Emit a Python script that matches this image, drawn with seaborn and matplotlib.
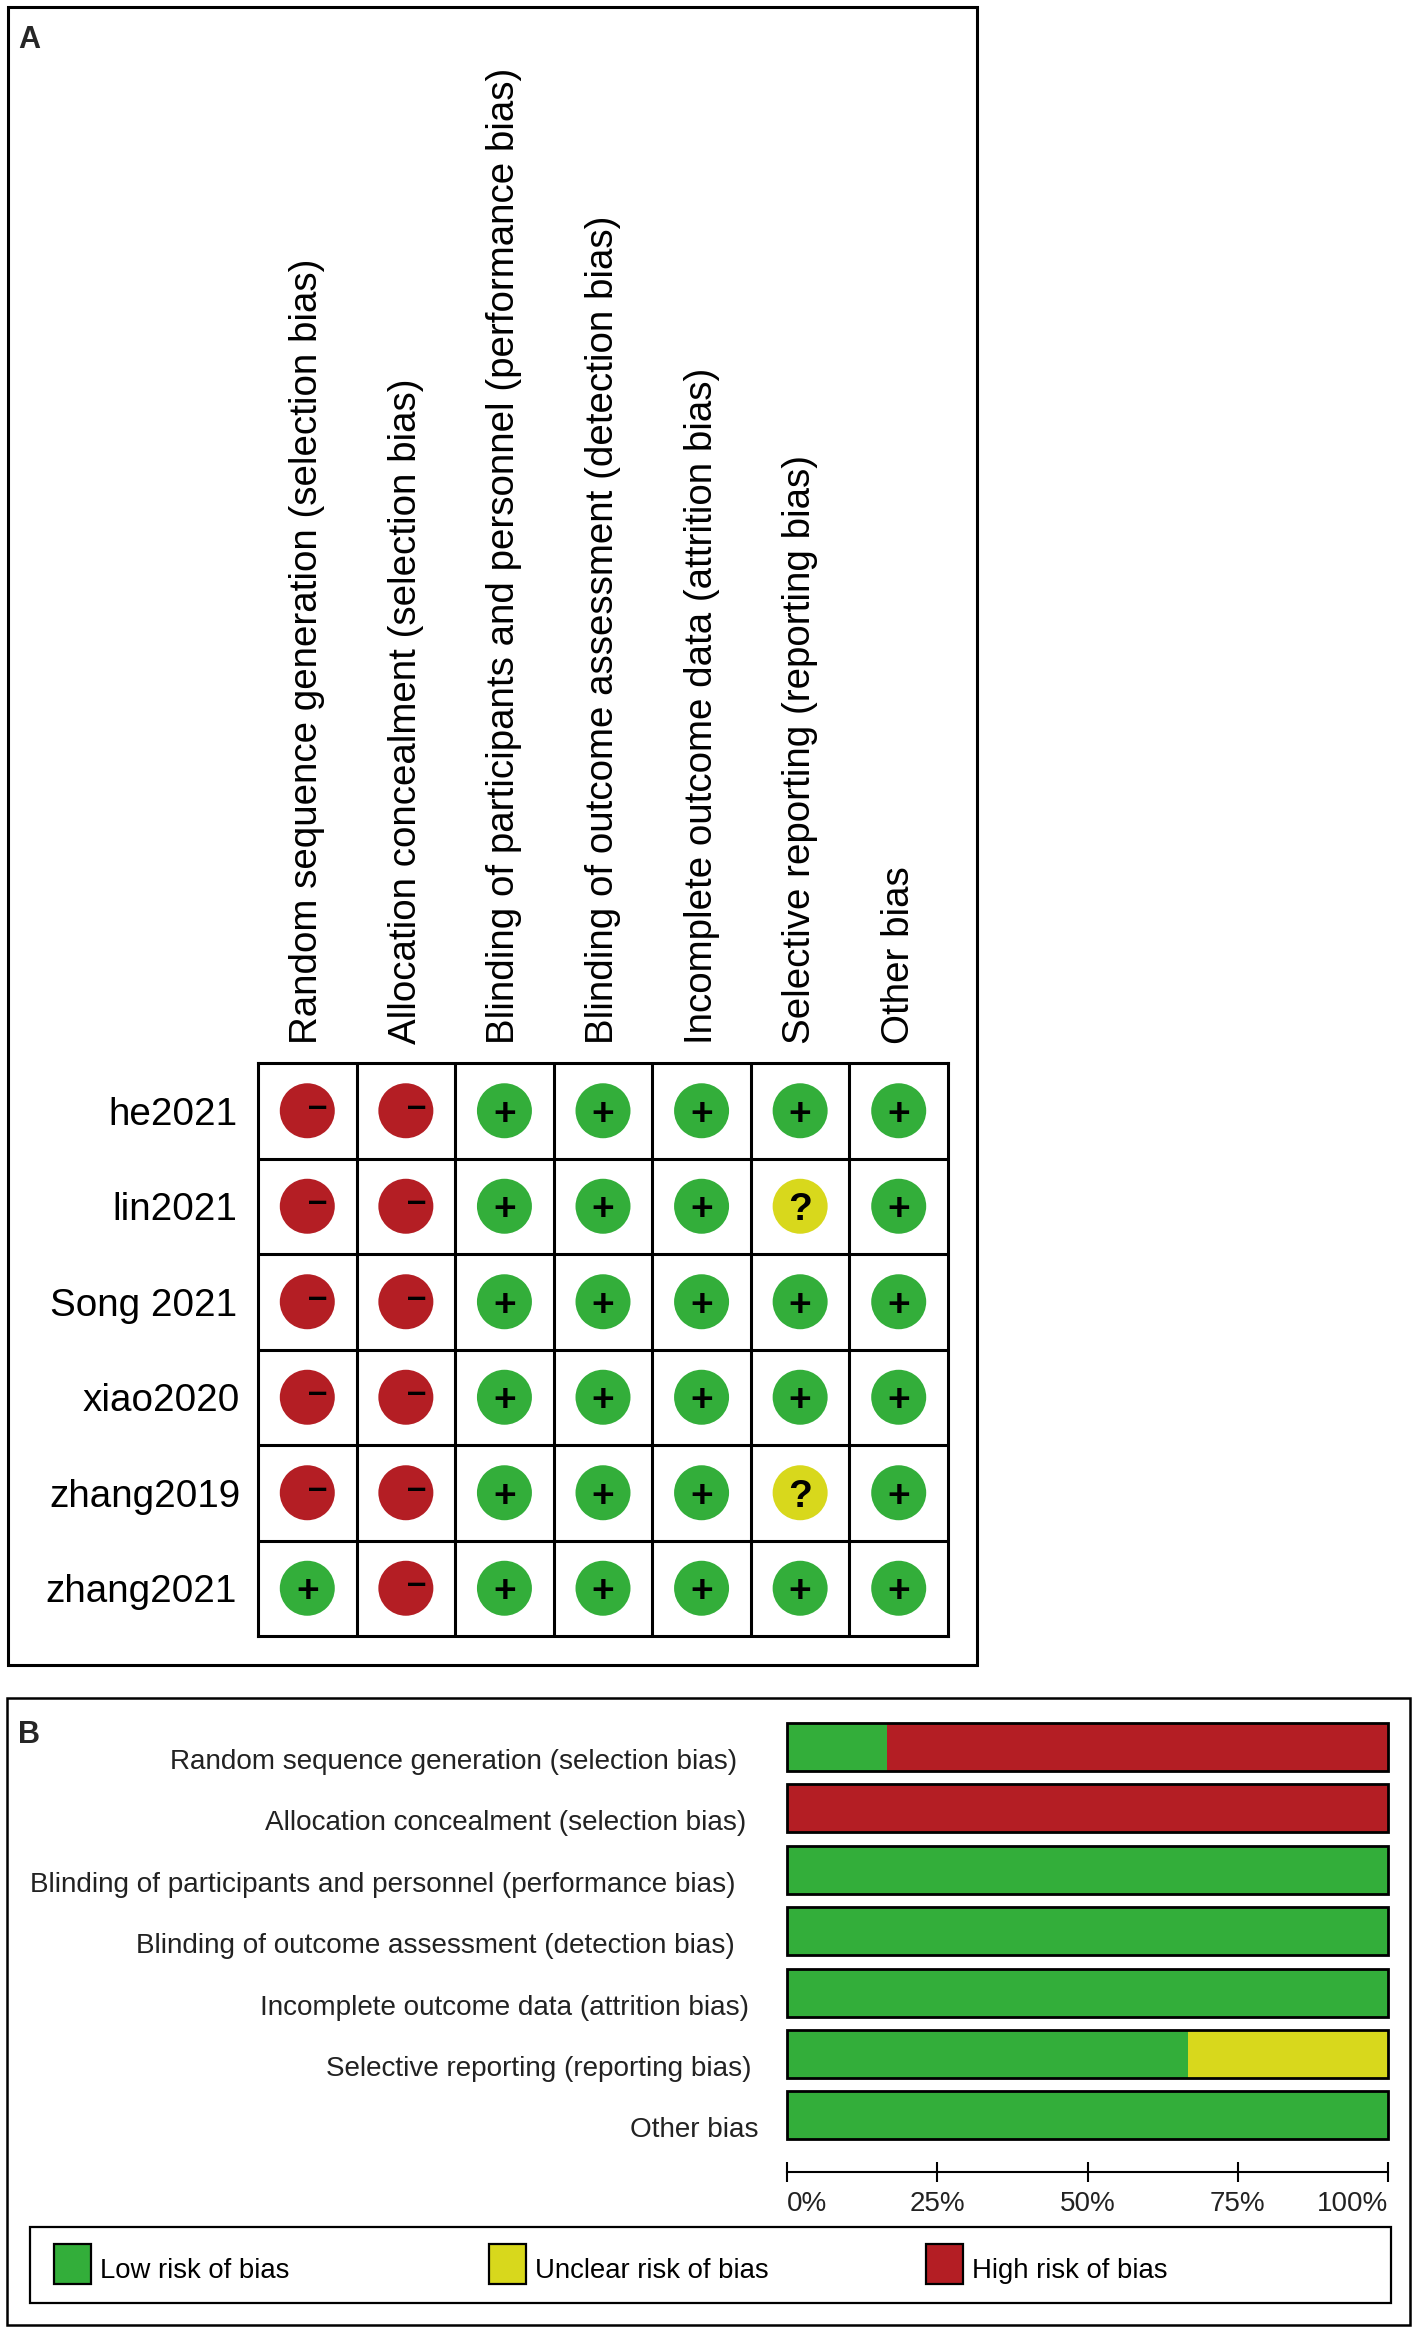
import numpy as np
import pandas as pd
import seaborn as sns
import matplotlib.pyplot as plt
from matplotlib.patches import Rectangle
from matplotlib.transforms import Affine2D

# data
domains = ["Random sequence generation (selection bias)",
           "Allocation concealment (selection bias)",
           "Blinding of participants and personnel (performance bias)",
           "Blinding of outcome assessment (detection bias)",
           "Incomplete outcome data (attrition bias)",
           "Selective reporting (reporting bias)",
           "Other bias"]
studies = ["he2021", "lin2021", "Song 2021", "xiao2020", "zhang2019", "zhang2021"]
he2021 = ["high", "high", "low", "low", "low", "low", "low"]
lin2021 = ["high", "high", "low", "low", "low", "unclear", "low"]
song2021 = ["high", "high", "low", "low", "low", "low", "low"]
xiao2020 = ["high", "high", "low", "low", "low", "low", "low"]
zhang2019 = ["high", "high", "low", "low", "low", "unclear", "low"]
zhang2021 = ["low", "high", "low", "low", "low", "low", "low"]

low_pct = [16.7, 0, 100, 100, 100, 66.7, 100]
unclear_pct = [0, 0, 0, 0, 0, 33.3, 0]
high_pct = [83.3, 100, 0, 0, 0, 0, 0]
pct_ticks = [0, 25, 50, 75, 100]
pct_labels = ["0%", "25%", "50%", "75%", "100%"]
legend_labels = ["Low risk of bias", "Unclear risk of bias", "High risk of bias"]

colors = {"low": "#33AE3A", "unclear": "#D8D81C", "high": "#B41E24"}
symbols = {"low": "+", "unclear": "?", "high": "\u2013"}

sns.set_style("white")
plt.rcParams["font.family"] = ["Liberation Sans", "DejaVu Sans"]

W, H = 1417, 2333
fig = plt.figure(figsize=(W / 100, H / 100), dpi=100)


def box(x0, y0, x1, y1):
    # pixel box (y down) to figure fractions
    return [x0 / W, 1 - y1 / H, (x1 - x0) / W, (y1 - y0) / H]


def frame(x0, y0, x1, y1, lw, fc="none"):
    l, b, w, h = box(x0, y0, x1, y1)
    fig.add_artist(Rectangle((l, b), w, h, transform=fig.transFigure,
                             fc=fc, ec="black", lw=lw))


def nudge(label, dx, dy):
    # shift a tick label by pixels
    label.set_transform(label.get_transform() + Affine2D().translate(dx, -dy))


frame(8, 7, 977, 1665, 2.2)
frame(7, 1698, 1410, 2325, 1.8)
frame(30, 2227, 1391, 2303, 1.6)

fig.text(18 / W, 1 - 48 / H, "A", fontsize=22, fontweight="bold")
fig.text(18 / W, 1 - 1743 / H, "B", fontsize=22, fontweight="bold")

# panel A, traffic light grid
rows = [he2021, lin2021, song2021, xiao2020, zhang2019, zhang2021]
grid_df = pd.DataFrame(rows, index=studies, columns=domains)
long_df = grid_df.reset_index(names="study").melt(id_vars="study", var_name="domain",
                                                  value_name="judgement")

ax_a = fig.add_axes(box(258, 1063, 948, 1636))
sns.scatterplot(data=long_df, x="domain", y="study", hue="judgement", palette=colors,
                s=1568, linewidth=0, legend=False, ax=ax_a)
ax_a.set_xlim(-0.5, 6.5)
ax_a.set_ylim(5.5, -0.5)
ax_a.set_xlabel("")
ax_a.set_ylabel("")
ax_a.xaxis.tick_top()
ax_a.set_xticks(range(7), domains, rotation=90, ha="center", va="bottom", fontsize=27.7)
ax_a.set_yticks(range(6), studies, fontsize=27.8)
ax_a.tick_params(axis="both", which="major", length=0, colors="black")
ax_a.tick_params(axis="x", pad=14)
ax_a.tick_params(axis="y", pad=15)
ax_a.set_xticks(np.arange(0.5, 6), minor=True)
ax_a.set_yticks(np.arange(0.5, 5), minor=True)
ax_a.tick_params(which="minor", length=0)
ax_a.grid(which="minor", color="black", lw=2.2)
ax_a.grid(which="major", visible=False)
for s in ax_a.spines.values():
    s.set_color("black")
    s.set_linewidth(2.2)
for lab, name in zip(ax_a.get_yticklabels(), studies):
    if name in ("xiao2020", "zhang2019"):
        nudge(lab, 3, 0)

# symbols on the circles
for _, r in long_df.iterrows():
    x = domains.index(r["domain"])
    y = studies.index(r["study"])
    if r["judgement"] == "high":
        ax_a.annotate(symbols["high"], (x, y), xytext=(0.7, -4.2), textcoords="offset points",
                      ha="left", va="baseline", fontsize=25, fontweight="bold", color="black")
    else:
        ax_a.annotate(symbols[r["judgement"]], (x, y), xytext=(0, -10), textcoords="offset points",
                      ha="center", va="baseline", fontsize=28, fontweight="bold", color="black")

# panel B, stacked bars drawn back to front
bar_df = pd.DataFrame({"domain": domains, "low": low_pct, "unclear": unclear_pct, "high": high_pct})
bar_df["low_end"] = bar_df["low"]
bar_df["unclear_end"] = bar_df["low"] + bar_df["unclear"]
bar_df["high_end"] = bar_df["unclear_end"] + bar_df["high"]

ax_b = fig.add_axes(box(787, 1716, 1388, 2172))
ax_b.patch.set_alpha(0)
for col, key in [("high_end", "high"), ("unclear_end", "unclear"), ("low_end", "low")]:
    sns.barplot(data=bar_df, x=col, y="domain", color=colors[key], saturation=1, width=0.78,
                linewidth=0, ax=ax_b)
sns.barplot(data=bar_df, x="high_end", y="domain", color="black", fill=False, width=0.78,
            linewidth=2.0, ax=ax_b)
# outline sits on the axes edge, so it must not be clipped
for p in ax_b.patches:
    p.set_clip_on(False)
ax_b.set_xlim(0, 100)
ax_b.set_ylim(6.92, -0.5)
ax_b.set_xlabel("")
ax_b.set_ylabel("")
sns.despine(ax=ax_b, left=True, top=True, right=True)
ax_b.spines["bottom"].set_color("black")
ax_b.spines["bottom"].set_linewidth(1.5)
ax_b.set_xticks(pct_ticks, pct_labels, fontsize=20, color="#222222")
ax_b.tick_params(axis="x", direction="inout", length=14, width=1.5, color="black", pad=7,
                 bottom=True)
ax_b.get_xticklabels()[0].set_ha("left")
ax_b.get_xticklabels()[-1].set_ha("right")
ax_b.set_yticks(range(7), domains, fontsize=20.1, color="#222222")
ax_b.tick_params(axis="y", length=0, pad=0)
for lab, end in zip(ax_b.get_yticklabels(), [737, 746, 735, 735, 749, 752, 759]):
    nudge(lab, end - 787, 12)

# legend
for key, x0, text_x, name in zip(["low", "unclear", "high"], [54, 489, 926], [100, 535, 972],
                                 legend_labels):
    frame(x0, 2244, x0 + 37, 2284, 1.6, fc=colors[key])
    fig.text(text_x / W, 1 - 2278 / H, name, fontsize=19.8, color="black")

fig.savefig("out.png", dpi=100)
